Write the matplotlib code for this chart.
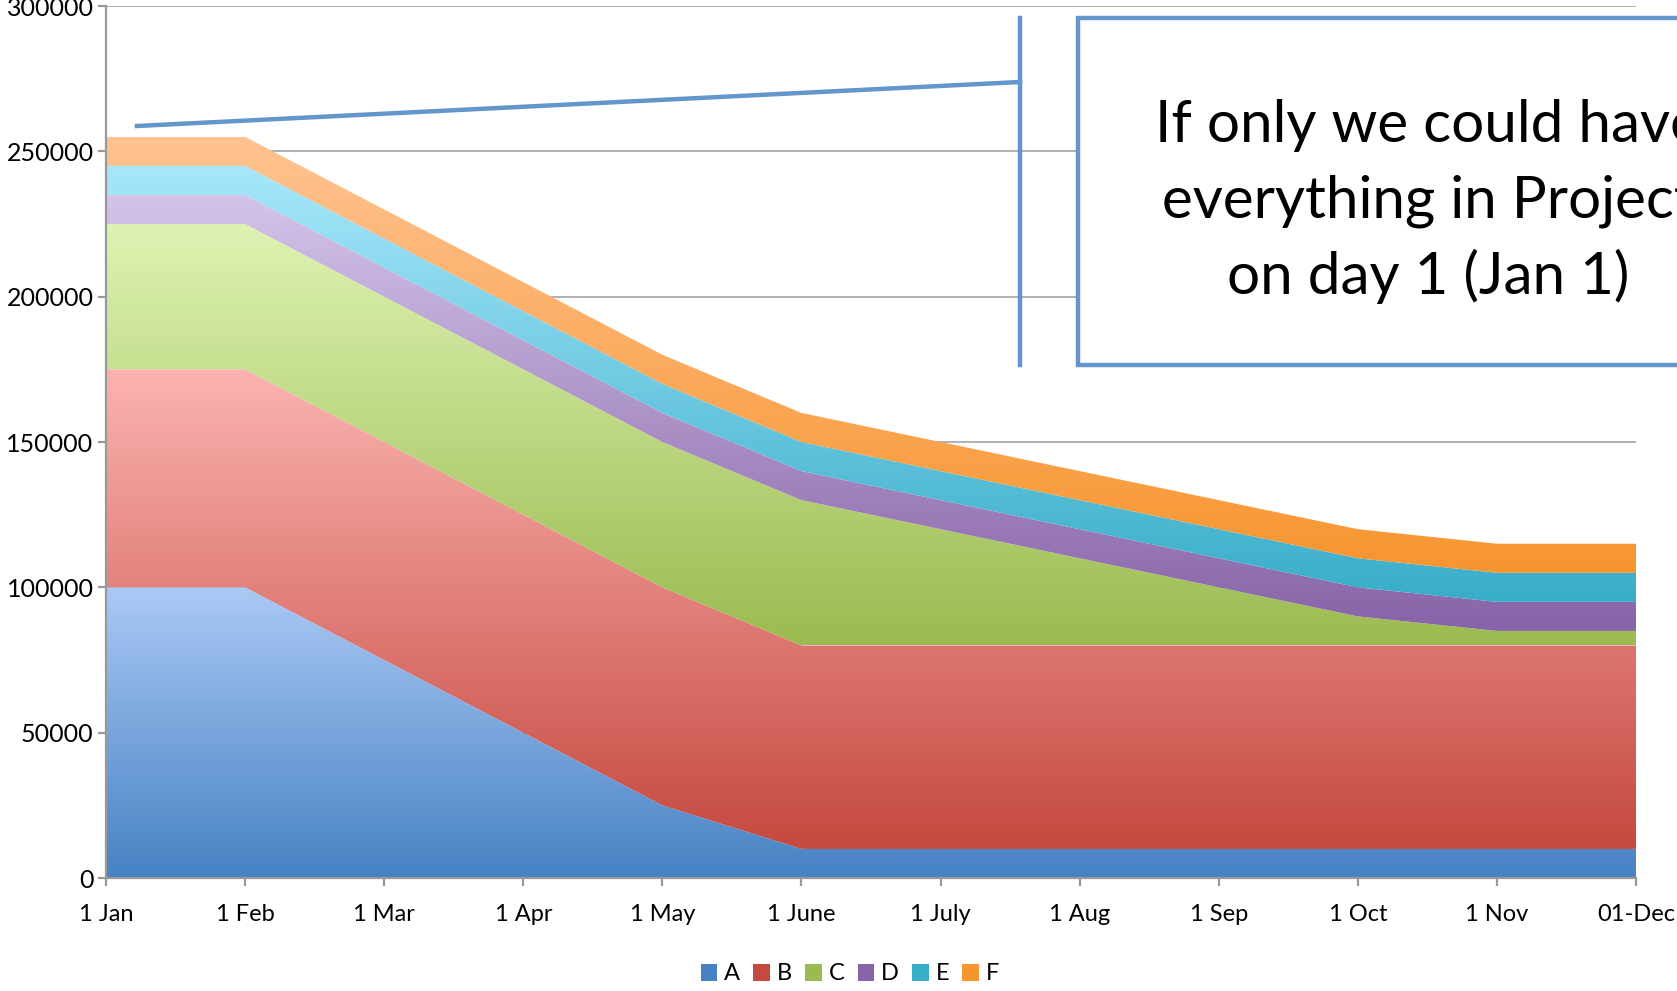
import numpy as np
import matplotlib
matplotlib.use("Agg")
import matplotlib.pyplot as plt
from matplotlib.colors import LinearSegmentedColormap
from matplotlib.patches import Patch, Rectangle
from matplotlib.lines import Line2D

plt.rcParams['font.family'] = ['Lato', 'DejaVu Sans']

# data -----------------------------------------------------------------
months = ["1 Jan", "1 Feb", "1 Mar", "1 Apr", "1 May", "1 June",
          "1 July", "1 Aug", "1 Sep", "1 Oct", "1 Nov", "01-Dec"]
series_names = ["A", "B", "C", "D", "E", "F"]
a_vals = [100000, 100000, 75000, 50000, 25000, 10000, 10000, 10000, 10000, 10000, 10000, 10000]
b_vals = [75000, 75000, 75000, 75000, 75000, 70000, 70000, 70000, 70000, 70000, 70000, 70000]
c_vals = [50000, 50000, 50000, 50000, 50000, 50000, 40000, 30000, 20000, 10000, 5000, 5000]
d_vals = [10000] * 12
e_vals = [10000] * 12
f_vals = [10000] * 12
callout_lines = ["If only we could have", "everything in Project", "on day 1 (Jan 1)"]

# (dark bottom, light top) per series
colors = [("#4682c3", "#abc9f5"),
          ("#c54940", "#fbb3b0"),
          ("#9bbb50", "#def3b3"),
          ("#8763a7", "#d3c4e9"),
          ("#38adc8", "#a7e7fb"),
          ("#f7952f", "#ffc391")]

W, H = 1677, 991
fig = plt.figure(figsize=(W / 100, H / 100), dpi=100)
ax = fig.add_axes([106 / W, 1 - 878 / H, 1530 / W, 872 / H])

x = np.arange(len(months))
data = np.array([a_vals, b_vals, c_vals, d_vals, e_vals, f_vals], dtype=float)
cum = np.cumsum(data, axis=0)

# stacked areas, each filled with a vertical gradient
for i in range(len(series_names)):
    lower = cum[i - 1] if i > 0 else np.zeros(len(x))
    upper = cum[i]
    poly = ax.fill_between(x, lower, upper, facecolor="none", edgecolor="none")
    cmap = LinearSegmentedColormap.from_list("g%d" % i, colors[i])
    grad = np.linspace(0, 1, 256).reshape(-1, 1)
    im = ax.imshow(grad, extent=[0, 11, lower.min(), upper.max()], origin="lower",
                   aspect="auto", cmap=cmap, zorder=2, interpolation="bilinear")
    im.set_clip_path(poly.get_paths()[0], ax.transData)

ax.set_xlim(0, 11)
ax.set_ylim(0, 300000)
ax.set_xticks(x)
ax.set_xticklabels(months)
ax.set_yticks(np.arange(0, 300001, 50000))
ax.yaxis.grid(True, color="#aaaaaa", lw=1.3, zorder=0)
ax.set_axisbelow(True)
for s in ["top", "right"]:
    ax.spines[s].set_visible(False)
for s in ["left", "bottom"]:
    ax.spines[s].set_color("#999999")
    ax.spines[s].set_linewidth(1.6)
    ax.spines[s].set_zorder(3)
ax.tick_params(axis="both", length=6, width=1.6, color="#999999", labelsize=17)
ax.tick_params(axis="x", pad=13)
ax.tick_params(axis="y", pad=3, labelsize=18)

# legend
handles = [Patch(facecolor=colors[i][0], edgecolor="none") for i in range(len(series_names))]
fig.legend(handles, series_names, loc="center", bbox_to_anchor=(850 / W, 1 - 974 / H),
           ncol=6, frameon=False, fontsize=17, handlelength=0.7, handleheight=0.7,
           handletextpad=0.3, columnspacing=0.55)

# callout --------------------------------------------------------------
blue = "#6396cc"
fig.add_artist(Line2D([137 / W, 1020 / W], [1 - 126 / H, 1 - 82 / H], color=blue, lw=3.2,
                      transform=fig.transFigure))
fig.add_artist(Line2D([1020 / W, 1020 / W], [1 - 18 / H, 1 - 365 / H], color=blue, lw=3.2,
                      transform=fig.transFigure))
fig.add_artist(Rectangle((1078 / W, 1 - 365 / H), 700 / W, 347 / H, facecolor="white",
                         edgecolor=blue, lw=3.2, transform=fig.transFigure, zorder=5))
baselines = [142, 217, 294]
for line, yb in zip(callout_lines, baselines):
    fig.text(1428 / W, 1 - yb / H, line, ha="center", va="baseline", fontsize=42,
             color="black", zorder=6)

fig.savefig("out.png", dpi=100)
